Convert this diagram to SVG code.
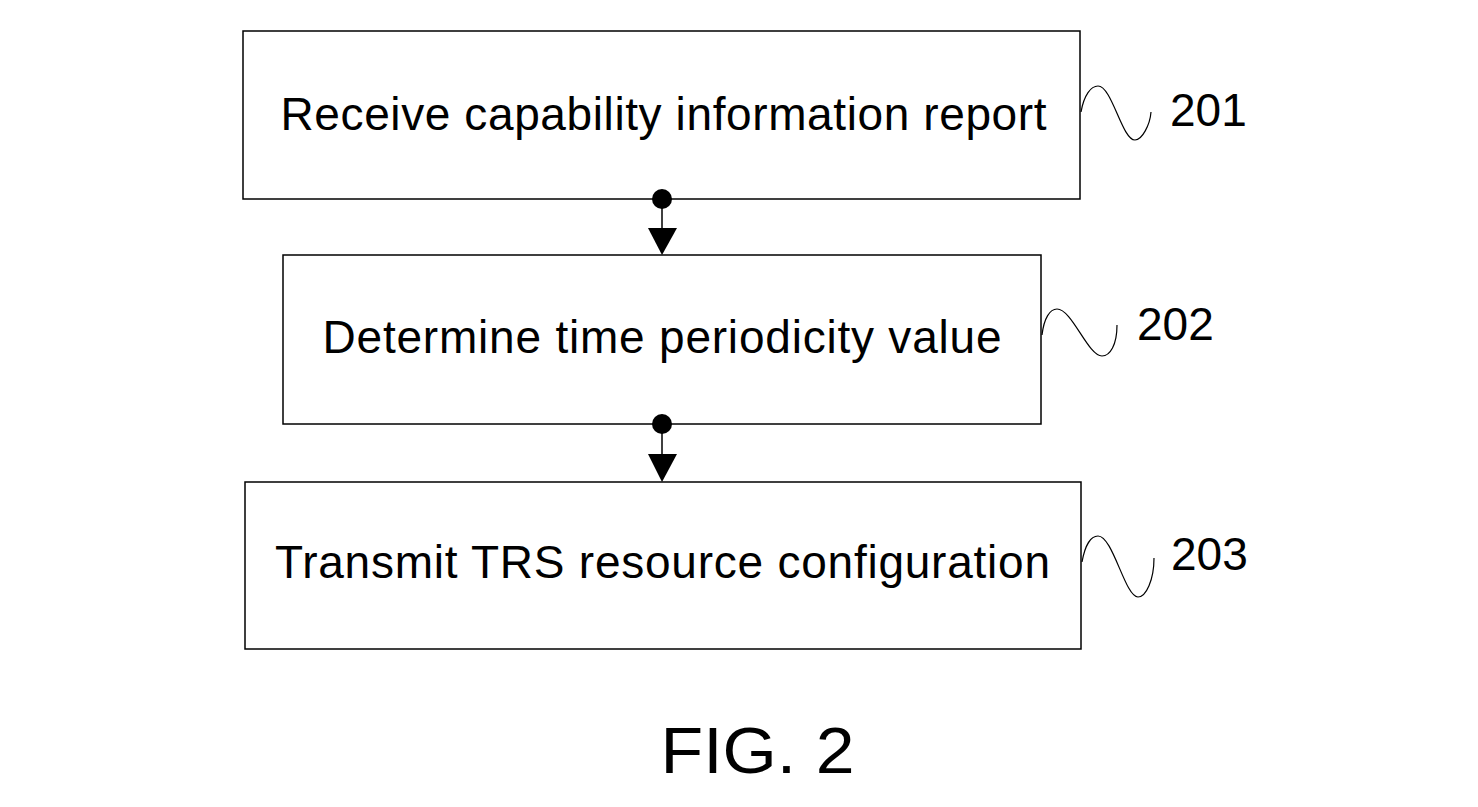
<svg xmlns="http://www.w3.org/2000/svg" width="1478" height="807" viewBox="0 0 1478 807">
<style>
.box{fill:#fff;stroke:#000;stroke-width:1.5}
.t{font-family:"Liberation Sans",Arial,sans-serif;font-size:46px;fill:#000;text-anchor:middle}
.n{font-family:"Liberation Sans",Arial,sans-serif;font-size:46px;fill:#000}
.sq{fill:none;stroke:#000;stroke-width:1.2}
.c{stroke:#000;stroke-width:1.5;fill:none}
</style>
<rect width="1478" height="807" fill="#fff"/>
<g id="node201">
<rect class="box" x="243" y="31" width="837" height="168"/>
<text class="t" x="663.5" y="130" textLength="766" lengthAdjust="spacing">Receive capability information report</text>
<path class="sq" d="M1081,112 C1084,95 1091,86 1098,86 C1112,86 1122,140 1135,140 C1142,140 1150,125 1151,112"/>
<text class="n" x="1170" y="126">201</text>
</g>
<g id="node202">
<rect class="box" x="283" y="255" width="758" height="169"/>
<text class="t" x="662" y="353" textLength="679" lengthAdjust="spacing">Determine time periodicity value</text>
<path class="sq" d="M1042,335 C1044,318 1050,309 1057,309 C1072,309 1088,356 1102,356 C1110,356 1117,345 1117,325"/>
<text class="n" x="1137" y="340">202</text>
</g>
<g id="node203">
<rect class="box" x="245" y="482" width="836" height="167"/>
<text class="t" x="662.5" y="578" textLength="775" lengthAdjust="spacing">Transmit TRS resource configuration</text>
<path class="sq" d="M1082,562 C1085,545 1091,536 1098,536 C1113,536 1125,597 1138,597 C1146,597 1154,580 1154,558"/>
<text class="n" x="1171" y="570">203</text>
</g>
<g id="connectors">
<line class="c" x1="662" y1="199" x2="662" y2="230"/>
<circle cx="662" cy="199" r="10" fill="#000"/>
<polygon points="648,228 677,228 662,255" fill="#000"/>
<line class="c" x1="662" y1="424" x2="662" y2="456"/>
<circle cx="662" cy="424" r="10" fill="#000"/>
<polygon points="648,454 677,454 662,482" fill="#000"/>
</g>
<text x="757.5" y="773" font-family="'Liberation Sans',Arial,sans-serif" font-size="64" text-anchor="middle" textLength="194" lengthAdjust="spacingAndGlyphs">FIG. 2</text>
</svg>
